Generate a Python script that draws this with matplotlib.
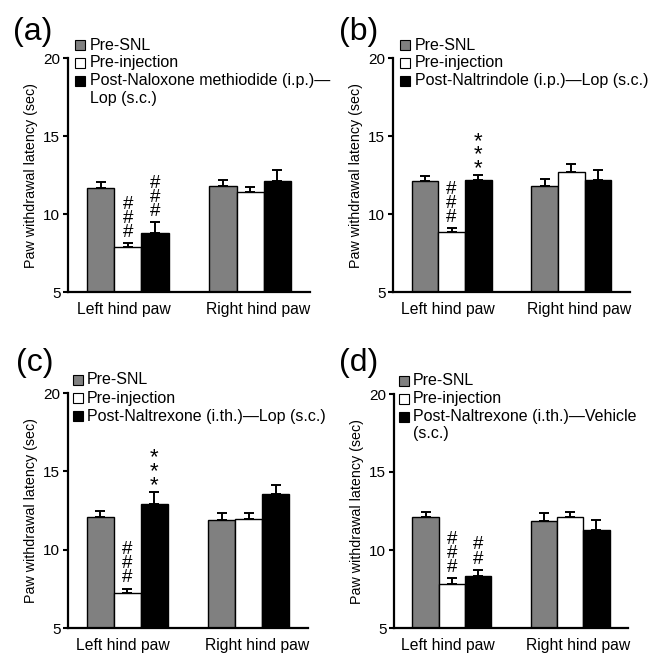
import numpy as np
import matplotlib.pyplot as plt
from matplotlib.transforms import offset_copy

plt.rcParams['font.family'] = ['Liberation Sans', 'DejaVu Sans']

# ----------------------------
# data
# ----------------------------
groups = ["Left hind paw", "Right hind paw"]
panel_tags = ["(a)", "(b)", "(c)", "(d)"]
series_names = ["Pre-SNL", "Pre-injection", "Post"]
colors = ["#808080", "white", "black"]

# legend text of the third series, one entry per line
post_labels = [
    ["Post-Naloxone methiodide (i.p.)\u2014", "Lop (s.c.)"],
    ["Post-Naltrindole (i.p.)\u2014Lop (s.c.)"],
    ["Post-Naltrexone (i.th.)\u2014Lop (s.c.)"],
    ["Post-Naltrexone (i.th.)\u2014Vehicle", "(s.c.)"],
]

# a
pre_snl_a = [11.67, 11.77]
pre_snl_a_err = [0.35, 0.43]
pre_inj_a = [7.86, 11.39]
pre_inj_a_err = [0.28, 0.32]
post_a = [8.78, 12.09]
post_a_err = [0.69, 0.71]
# b
pre_snl_b = [12.09, 11.77]
pre_snl_b_err = [0.32, 0.47]
pre_inj_b = [8.82, 12.67]
pre_inj_b_err = [0.28, 0.53]
post_b = [12.18, 12.18]
post_b_err = [0.30, 0.62]
# c
pre_snl_c = [12.10, 11.89]
pre_snl_c_err = [0.37, 0.43]
pre_inj_c = [7.24, 11.98]
pre_inj_c_err = [0.28, 0.38]
post_c = [12.92, 13.54]
post_c_err = [0.78, 0.57]
# d
pre_snl_d = [12.12, 11.87]
pre_snl_d_err = [0.33, 0.47]
pre_inj_d = [7.80, 12.12]
pre_inj_d_err = [0.41, 0.33]
post_d = [8.36, 11.31]
post_d_err = [0.38, 0.64]

# significance marks: (series index, group index, text)
marks_a = [(1, 0, "###"), (2, 0, "###")]
marks_b = [(1, 0, "###"), (2, 0, "***")]
marks_c = [(1, 0, "###"), (2, 0, "***")]
marks_d = [(1, 0, "###"), (2, 0, "##")]

panels = [
    ([pre_snl_a, pre_inj_a, post_a], [pre_snl_a_err, pre_inj_a_err, post_a_err], marks_a),
    ([pre_snl_b, pre_inj_b, post_b], [pre_snl_b_err, pre_inj_b_err, post_b_err], marks_b),
    ([pre_snl_c, pre_inj_c, post_c], [pre_snl_c_err, pre_inj_c_err, post_c_err], marks_c),
    ([pre_snl_d, pre_inj_d, post_d], [pre_snl_d_err, pre_inj_d_err, post_d_err], marks_d),
]

# axes boxes in pixels: left, right, top, bottom
W, H = 654, 667
boxes = [(68, 310, 58, 292), (393, 630, 58, 292), (68, 308, 393, 628), (394, 628, 394, 628)]
tag_pos = [(13, 32), (339, 32), (16, 363), (339, 363)]

fig = plt.figure(figsize=(W/100, H/100), dpi=100)

x = np.array([0.0, 4.5])
width = 1.0

for k, (vals, errs, marks) in enumerate(panels):
    l, r, t, b = boxes[k]
    ax = fig.add_axes([l/W, 1 - b/H, (r - l)/W, (b - t)/H])

    for i in range(3):
        xi = x + (i - 1)*width
        ax.bar(xi, vals[i], width, bottom=0, color=colors[i], edgecolor='black', linewidth=1.0, zorder=2)
        ax.errorbar(xi, vals[i], yerr=[np.zeros(2), errs[i]], fmt='none', ecolor='black',
                    elinewidth=1.4, capsize=3.6, capthick=1.4, zorder=3)

    for (i, g, s) in marks:
        xi = x[g] + (i - 1)*width
        top = vals[i][g] + errs[i][g]
        if s[0] == "#":
            ax.annotate("\n".join(s), xy=(xi, top), xytext=(0, 1.5), textcoords='offset points',
                        ha='center', va='bottom', fontsize=13.5, linespacing=0.78)
        else:
            ax.annotate("\n".join(s), xy=(xi, top), xytext=(0, -3), textcoords='offset points',
                        ha='center', va='bottom', fontsize=16, linespacing=0.55)

    ax.set_xlim(-2.2, 6.7)
    ax.set_ylim(5, 20)
    ax.set_yticks([5, 10, 15, 20])
    # category labels sit a little off the group centres in the original
    ax.set_xticks(x + np.array([-0.15, 0.3]))
    ax.set_xticklabels(groups, fontsize=11.3)
    ax.tick_params(axis='x', length=0, pad=7)
    ax.tick_params(axis='y', direction='out', length=3.5, width=1.5, labelsize=11, pad=2)
    ax.set_ylabel("Paw withdrawal latency (sec)", fontsize=10.3, labelpad=4)
    for side in ['top', 'right']:
        ax.spines[side].set_visible(False)
    for side in ['left', 'bottom']:
        ax.spines[side].set_linewidth(1.6)

    # legend drawn by hand, offsets in pixels from the axes top-left corner
    sq_dx = 12 if k < 2 else 10
    tx_dx = 22 if k < 2 else 19
    dys = [13, -5, -23]
    labels = [["Pre-SNL"], ["Pre-injection"], post_labels[k]]
    for i in range(3):
        tr_sq = offset_copy(ax.transAxes, fig=fig, x=sq_dx, y=dys[i], units='dots')
        ax.plot([0], [1], marker='s', ms=7.3, mfc=colors[i], mec='black', mew=0.8,
                transform=tr_sq, clip_on=False)
        for j, line in enumerate(labels[i]):
            tr_tx = offset_copy(ax.transAxes, fig=fig, x=tx_dx, y=dys[i] - 17*j, units='dots')
            ax.text(0, 1, line, transform=tr_tx, fontsize=11.5, ha='left', va='center')

    fig.text(tag_pos[k][0]/W, 1 - tag_pos[k][1]/H, panel_tags[k], fontsize=23, ha='left', va='center')

fig.savefig("out.png", dpi=100)
